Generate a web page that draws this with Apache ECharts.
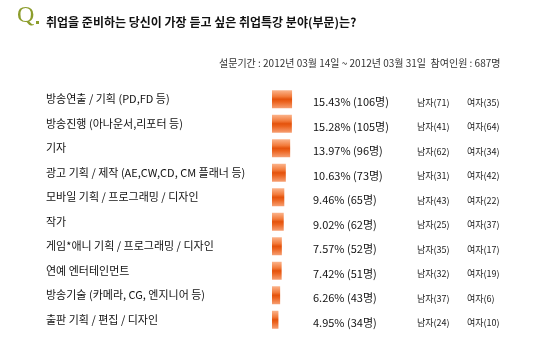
<!DOCTYPE html>
<html>
<head>
<meta charset="utf-8">
<script src="https://cdn.jsdelivr.net/npm/echarts@6/dist/echarts.min.js"></script>
<style>
  html, body { margin: 0; padding: 0; background: #fff; }
  #chart { width: 550px; height: 361px; }
</style>
</head>
<body>
<div id="chart"></div>
<script>
var categories = [
  "방송연출 / 기획 (PD,FD 등)",
  "방송진행 (아나운서,리포터 등)",
  "기자",
  "광고 기획 / 제작 (AE,CW,CD, CM 플래너 등)",
  "모바일 기획 / 프로그래밍 / 디자인",
  "작가",
  "게임*애니 기획 / 프로그래밍 / 디자인",
  "연예 엔터테인먼트",
  "방송기술 (카메라, CG, 엔지니어 등)",
  "출판 기획 / 편집 / 디자인"
];
var percents = [15.43, 15.28, 13.97, 10.63, 9.46, 9.02, 7.57, 7.42, 6.26, 4.95];
var counts = [106, 105, 96, 73, 65, 62, 52, 51, 43, 34];
var males = [71, 41, 62, 31, 43, 25, 35, 32, 37, 24];
var females = [35, 64, 34, 42, 22, 37, 17, 19, 6, 10];

var chart = echarts.init(document.getElementById("chart"));
var font = "'Noto Sans CJK KR', 'Noto Sans', sans-serif";

chart.setOption({
  backgroundColor: "#fff",
  animation: false,
  textStyle: { fontFamily: font },
  graphic: [
    {
      type: "text", left: 17, top: 4,
      style: { text: "Q", fill: "#8c9d2c", font: "24px 'Liberation Serif', serif" }
    },
    {
      type: "rect", left: 36, top: 21,
      shape: { width: 3, height: 3 },
      style: { fill: "#8c9d2c" }
    },
    {
      type: "text", left: 46, top: 16,
      style: {
        text: "취업을 준비하는 당신이 가장 듣고 싶은 취업특강 분야(부문)는?",
        fill: "#111", font: "bold 12px " + font
      }
    },
    {
      type: "text", left: 219, top: 58,
      style: {
        text: "설문기간 : 2012년 03월 14일 ~ 2012년 03월 31일  참여인원 : 687명",
        fill: "#333", font: "10px " + font
      }
    }
  ],
  grid: { left: 272, top: 87, width: 130, height: 245 },
  xAxis: {
    type: "value", min: 0, max: 100, show: false
  },
  yAxis: {
    type: "category",
    data: categories,
    inverse: true,
    axisLine: { show: false },
    axisTick: { show: false },
    splitLine: { show: false },
    axisLabel: {
      align: "left",
      margin: 226,
      padding: [7, 0, 0, 0],
      color: "#111",
      fontSize: 11,
      fontFamily: font
    }
  },
  series: [
    {
      type: "bar",
      data: percents,
      barWidth: 18,
      itemStyle: {
        color: new echarts.graphic.LinearGradient(0, 0, 0, 1, [
          { offset: 0, color: "#fbb48c" },
          { offset: 0.35, color: "#f27a3a" },
          { offset: 0.5, color: "#e4520c" },
          { offset: 0.65, color: "#ec6420" },
          { offset: 1, color: "#f6a074" }
        ])
      },
      label: {
        show: true,
        position: [41, "50%"],
        align: "left",
        verticalAlign: "middle",
        offset: [0, 3],
        formatter: function (p) {
          var i = p.dataIndex;
          return "{a|" + percents[i].toFixed(2) + "% (" + counts[i] + "명)}" +
            "{b|남자(" + males[i] + ")}" +
            "{c|여자(" + females[i] + ")}";
        },
        rich: {
          a: { width: 104, fontSize: 11, color: "#111", fontFamily: font },
          b: { width: 50, fontSize: 9, color: "#222", fontFamily: font },
          c: { fontSize: 9, color: "#222", fontFamily: font }
        }
      }
    }
  ]
});
</script>
</body>
</html>
